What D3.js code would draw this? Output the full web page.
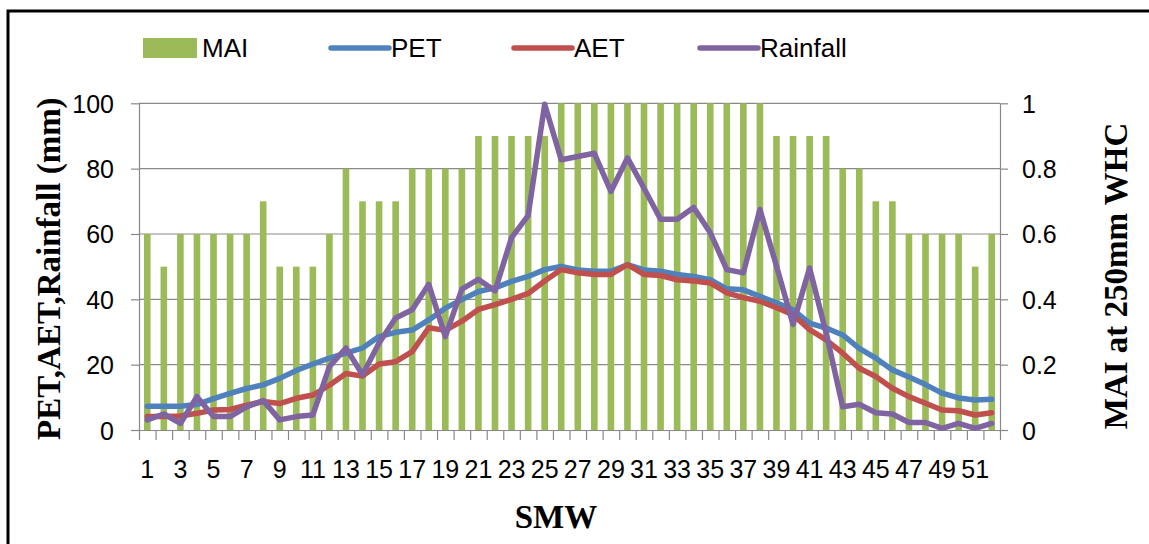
<!DOCTYPE html>
<html>
<head>
<meta charset="utf-8">
<script src="https://cdn.jsdelivr.net/npm/d3@7"></script>
<style>
  body { margin: 0; background: #fff; }
  svg { display: block; }
</style>
</head>
<body>
<div id="chart"></div>
<script>
const weeks = d3.range(1, 53);
const mai = [0.6, 0.5, 0.6, 0.6, 0.6, 0.6, 0.6, 0.7, 0.5, 0.5, 0.5, 0.6, 0.8, 0.7, 0.7, 0.7, 0.8, 0.8, 0.8, 0.8,
  0.9, 0.9, 0.9, 0.9, 0.9, 1, 1, 1, 1, 1, 1, 1, 1, 1, 1, 1, 1, 1, 0.9, 0.9, 0.9, 0.9, 0.8, 0.8, 0.7, 0.7,
  0.6, 0.6, 0.6, 0.6, 0.5, 0.6];
const pet = [7.3, 7.3, 7.3, 7.8, 9.6, 11.2, 12.7, 13.8, 15.8, 18.2, 20.2, 22, 23.5, 25.1, 28.6, 29.9, 30.6, 33.7,
  37.3, 39.9, 42.4, 43.5, 45.5, 47, 49.1, 50.1, 49, 48.6, 48.6, 50.6, 49, 48.6, 47.6, 47, 46, 43.2, 42.9, 40.9,
  38.9, 36.8, 32.7, 31.2, 29.1, 25, 22, 18.4, 16.2, 13.9, 11.3, 9.8, 9.2, 9.4];
const aet = [4.1, 4.1, 4.3, 5.1, 6.1, 6.3, 7.6, 8.7, 8.1, 9.7, 10.7, 13.7, 17.3, 16.5, 20.2, 20.9, 24, 31.3,
  30.5, 33.3, 36.9, 38.4, 40, 41.8, 45.6, 49.1, 48.1, 47.6, 47.6, 50.6, 47.6, 47.3, 46, 45.6, 45, 42, 40.5, 39.4,
  37.4, 35.3, 30.7, 27.6, 23.5, 18.9, 16.4, 12.8, 10.2, 8.2, 6.1, 5.9, 4.6, 5.3];
const rainfall = [3.1, 4.9, 2, 10.2, 4.1, 4.1, 7.1, 9, 3.1, 4.1, 4.6, 19.4, 25.1, 16.9, 26.6, 34.3, 36.8, 44.6,
  28.6, 43.1, 46.1, 42.6, 58.9, 65.6, 99.7, 82.7, 83.7, 84.7, 73, 83.3, 74, 64.5, 64.5, 68.1, 60.4, 49.1, 48.1, 67.5,
  50.2, 32.3, 49.6, 29.7, 7.1, 7.9, 5.3, 4.9, 2.3, 2.3, 0.5, 2, 0.5, 2];
const leftTicks = [0, 20, 40, 60, 80, 100];
const rightTicks = [0, 0.2, 0.4, 0.6, 0.8, 1];
const xLabels = weeks.filter(w => w % 2 === 1);

const lineSeries = [
  { name: 'PET', values: pet, color: '#4F81BD' },
  { name: 'AET', values: aet, color: '#C0504D' },
  { name: 'Rainfall', values: rainfall, color: '#8064A2' }
];

const width = 1149;
const height = 544;
const plot = { left: 139, right: 1000, top: 103.3, bottom: 430 };
const gridColor = '#898989';
const font = '"Liberation Sans", Arial, sans-serif';
const serif = '"Liberation Serif", "Times New Roman", serif';

const svg = d3.select('#chart').append('svg')
  .attr('width', width)
  .attr('height', height);

svg.append('rect').attr('width', width).attr('height', height).attr('fill', '#fff');

// outer frame (only left and top edges show)
svg.append('path')
  .attr('d', `M8,${height + 5}V11H${width + 5}`)
  .attr('fill', 'none')
  .attr('stroke', '#000')
  .attr('stroke-width', 3);

const x = d3.scaleBand().domain(weeks).range([plot.left, plot.right]);
const xEdge = d3.scaleLinear().domain([0, weeks.length]).range([plot.left, plot.right]);
const y = d3.scaleLinear().domain([0, 100]).range([plot.bottom, plot.top]);
const yR = d3.scaleLinear().domain([0, 1]).range([plot.bottom, plot.top]);

// gridlines
svg.append('g')
  .selectAll('line')
  .data(leftTicks.filter(d => d > 0))
  .join('line')
  .attr('x1', plot.left)
  .attr('x2', plot.right)
  .attr('y1', d => y(d))
  .attr('y2', d => y(d))
  .attr('stroke', gridColor)
  .attr('stroke-width', 1.2);

// MAI bars
const barW = x.bandwidth() / 2.5;
svg.append('g')
  .attr('fill', '#9BBB59')
  .selectAll('rect')
  .data(weeks)
  .join('rect')
  .attr('x', d => x(d) + (x.bandwidth() - barW) / 2)
  .attr('width', barW)
  .attr('y', (d, i) => yR(mai[i]))
  .attr('height', (d, i) => yR(0) - yR(mai[i]));

// axes
const styleAxis = g => {
  g.select('.domain').attr('stroke', gridColor).attr('stroke-width', 1.2);
  g.selectAll('.tick line').attr('stroke', gridColor).attr('stroke-width', 1.2);
  g.selectAll('text').attr('fill', '#000').attr('font-family', font).attr('font-size', 25);
};

svg.append('g')
  .attr('transform', `translate(${plot.left},0)`)
  .call(d3.axisLeft(y).tickValues(leftTicks).tickSize(8).tickPadding(17).tickSizeOuter(0))
  .call(styleAxis)
  .call(g => g.selectAll('text').attr('dy', '0.36em'));

svg.append('g')
  .attr('transform', `translate(${plot.right},0)`)
  .call(d3.axisRight(yR).tickValues(rightTicks).tickSize(8).tickPadding(14).tickSizeOuter(0)
    .tickFormat(d => String(d)))
  .call(styleAxis)
  .call(g => g.selectAll('text').attr('dy', '0.36em'));

svg.append('g')
  .attr('transform', `translate(0,${plot.bottom})`)
  .call(d3.axisBottom(xEdge).ticks(weeks.length).tickValues(d3.range(0, weeks.length + 1))
    .tickSize(10).tickFormat('').tickSizeOuter(0))
  .call(styleAxis);

svg.append('g')
  .attr('transform', `translate(0,${plot.bottom})`)
  .call(d3.axisBottom(x).tickValues(xLabels).tickSize(0).tickPadding(30))
  .call(styleAxis)
  .call(g => g.select('.domain').remove());

// lines
const line = d3.line()
  .x((d, i) => x(weeks[i]) + x.bandwidth() / 2)
  .y(d => y(d));

svg.append('g')
  .attr('fill', 'none')
  .attr('stroke-width', 5.5)
  .attr('stroke-linejoin', 'round')
  .attr('stroke-linecap', 'round')
  .selectAll('path')
  .data(lineSeries)
  .join('path')
  .attr('stroke', d => d.color)
  .attr('d', d => line(d.values));

// axis titles
svg.append('text')
  .attr('transform', `translate(60,${(plot.top + plot.bottom) / 2 + 2}) rotate(-90)`)
  .attr('text-anchor', 'middle')
  .attr('font-family', serif)
  .attr('font-weight', 'bold')
  .attr('font-size', 33)
  .text('PET,AET,Rainfall (mm)');

svg.append('text')
  .attr('transform', `translate(1127,276) rotate(-90)`)
  .attr('text-anchor', 'middle')
  .attr('font-family', serif)
  .attr('font-weight', 'bold')
  .attr('font-size', 33)
  .text('MAI at 250mm WHC');

svg.append('text')
  .attr('x', 556)
  .attr('y', 528)
  .attr('text-anchor', 'middle')
  .attr('font-family', serif)
  .attr('font-weight', 'bold')
  .attr('font-size', 33)
  .text('SMW');

// legend
const legend = svg.append('g').attr('font-family', font).attr('font-size', 26);
legend.append('rect')
  .attr('x', 143).attr('y', 38).attr('width', 54).attr('height', 20)
  .attr('fill', '#9BBB59');
legend.append('text').attr('x', 202).attr('y', 57).text('MAI');

const legendItems = [
  { s: lineSeries[0], x0: 331 },
  { s: lineSeries[1], x0: 514 },
  { s: lineSeries[2], x0: 700 }
];
legendItems.forEach(item => {
  legend.append('line')
    .attr('x1', item.x0).attr('x2', item.x0 + 58)
    .attr('y1', 48).attr('y2', 48)
    .attr('stroke', item.s.color)
    .attr('stroke-width', 5.5)
    .attr('stroke-linecap', 'round');
  legend.append('text')
    .attr('x', item.x0 + 60)
    .attr('y', 57)
    .text(item.s.name);
});
</script>
</body>
</html>
